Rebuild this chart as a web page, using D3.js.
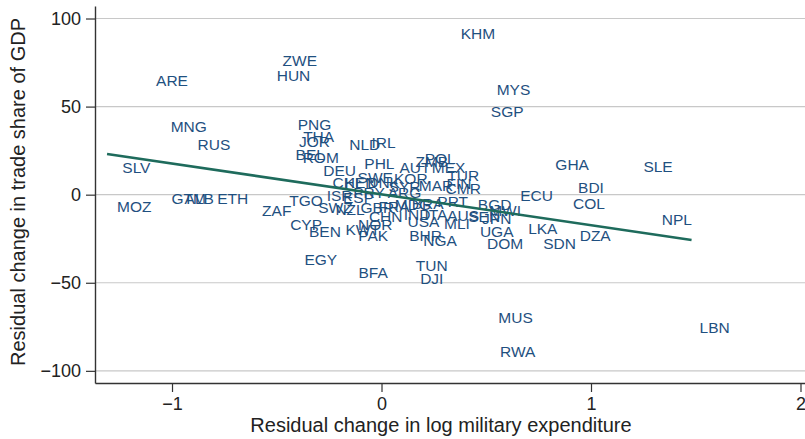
<!DOCTYPE html>
<html><head><meta charset="utf-8">
<script src="https://cdn.jsdelivr.net/npm/d3@7"></script>
<style>
body{margin:0;background:#fff;}
svg{display:block;font-family:"Liberation Sans",Arial,Helvetica,sans-serif;}
</style></head>
<body><svg id="c" width="805" height="439"></svg>
<script>
const countries = ["KHM","ZWE","HUN","ARE","MYS","SGP","MNG","PNG","THA","JOR","RUS","NLD","IRL","BEL","ROM","PHL","POL","GHA","SLE","SLV","DEU","SWE","ZMB","MEX","AUT","TUR","KOR","CHL","KEN","DNK","FIN","SYR","MAR","CMR","ECU","BDI","COL","ISR","ESP","PRY","ARG","GTM","ALB","ETH","MOZ","ZAF","TGO","SWZ","NZL","GBR","FRA","CHN","MDG","BRA","PRT","BGD","MWI","IND","ITA","AUS","SEN","JPN","USA","MLI","CYP","BEN","KWT","NOR","PAK","BHR","NGA","UGA","DOM","LKA","SDN","DZA","NPL","EGY","BFA","TUN","DJI","MUS","RWA","LBN"];
const xVals = [0.46,-0.39,-0.42,-1.00,0.63,0.60,-0.92,-0.32,-0.30,-0.32,-0.80,-0.08,0.01,-0.34,-0.29,-0.01,0.28,0.91,1.32,-1.17,-0.20,-0.03,0.24,0.32,0.16,0.39,0.14,-0.16,-0.10,0.01,0.37,0.11,0.26,0.39,0.74,1.00,0.99,-0.20,-0.11,-0.06,0.11,-0.92,-0.87,-0.71,-1.18,-0.50,-0.36,-0.22,-0.15,-0.02,0.06,0.02,0.15,0.22,0.34,0.54,0.59,0.17,0.26,0.39,0.49,0.55,0.20,0.36,-0.36,-0.27,-0.09,-0.03,-0.04,0.21,0.28,0.55,0.59,0.77,0.85,1.02,1.41,-0.29,-0.04,0.24,0.24,0.64,0.65,1.59];
const yVals = [91.4,76.4,67.9,65.1,60.0,47.5,39.0,39.6,33.3,30.5,28.3,28.3,29.9,23.1,21.4,18.0,20.8,16.9,16.3,15.2,14.0,10.0,18.6,15.7,15.2,11.2,9.5,7.2,7.2,7.2,6.6,4.9,5.5,3.8,-0.2,4.4,-4.7,-0.7,-1.3,1.5,1.0,-1.9,-1.9,-1.9,-6.4,-9.2,-3.0,-7.5,-8.1,-7.5,-6.5,-12.1,-5.8,-4.7,-4.1,-5.8,-9.2,-11.0,-11.0,-11.5,-12.1,-13.2,-15.2,-16.3,-16.9,-20.8,-19.7,-16.9,-23.2,-23.4,-25.7,-20.6,-27.4,-18.9,-27.4,-22.9,-13.8,-36.5,-43.9,-39.9,-47.8,-69.4,-88.7,-75.6];
const fitX = [-1.31, 1.48];
const fitY = [23.1, -25.7];
const xTicks = [-1, 0, 1, 2];
const yTicks = [-100, -50, 0, 50, 100];
const xTitle = "Residual change in log military expenditure";
const yTitle = "Residual change in trade share of GDP";

const L = 95, R = 805, T = 6, B = 383;
const x = d3.scaleLinear().domain([-1.3676, 2.0215]).range([L, R]);
const y = d3.scaleLinear().domain([-106.9, 107.1]).range([B, T]);
const svg = d3.select("#c");

// grid
svg.append("g").selectAll("line").data(yTicks).join("line")
  .attr("x1", L).attr("x2", R)
  .attr("y1", d => y(d)).attr("y2", d => y(d))
  .attr("stroke", "#c8c8c8").attr("stroke-width", 1.2);

// labels
svg.append("g").selectAll("text").data(countries).join("text")
  .attr("x", (d, i) => x(xVals[i]))
  .attr("y", (d, i) => y(yVals[i]))
  .attr("dy", "0.36em")
  .attr("text-anchor", "middle")
  .attr("font-size", 15.5)
  .attr("fill", "#1f5080")
  .text(d => d);

// fit line
svg.append("path")
  .datum(fitX.map((v, i) => [v, fitY[i]]))
  .attr("d", d3.line().x(d => x(d[0])).y(d => y(d[1])))
  .attr("fill", "none").attr("stroke", "#1e6b5c").attr("stroke-width", 2.6);

// axes
const xa = svg.append("g").attr("transform", `translate(0,${B})`)
  .call(d3.axisBottom(x).tickValues(xTicks).tickSize(9).tickPadding(5).tickSizeOuter(0)
    .tickFormat(d => d < 0 ? "\u2212" + Math.abs(d) : d));
const ya = svg.append("g").attr("transform", `translate(${L},0)`)
  .call(d3.axisLeft(y).tickValues(yTicks).tickSize(9).tickPadding(5).tickSizeOuter(0)
    .tickFormat(d => d < 0 ? "\u2212" + Math.abs(d) : d));
[xa, ya].forEach(a => {
  a.selectAll("text").attr("font-size", 18).attr("fill", "#222").attr("font-family", "Liberation Sans, Arial, sans-serif");
  a.selectAll("line").attr("stroke", "#333").attr("stroke-width", 1.2);
  a.select(".domain").attr("stroke", "#333").attr("stroke-width", 1.4);
});

svg.append("text").attr("x", 441).attr("y", 432).attr("text-anchor", "middle")
  .attr("font-size", 20).attr("fill", "#222").text(xTitle);
svg.append("text").attr("transform", "translate(25,192) rotate(-90)").attr("text-anchor", "middle")
  .attr("font-size", 20).attr("fill", "#222").text(yTitle);
</script></body></html>
